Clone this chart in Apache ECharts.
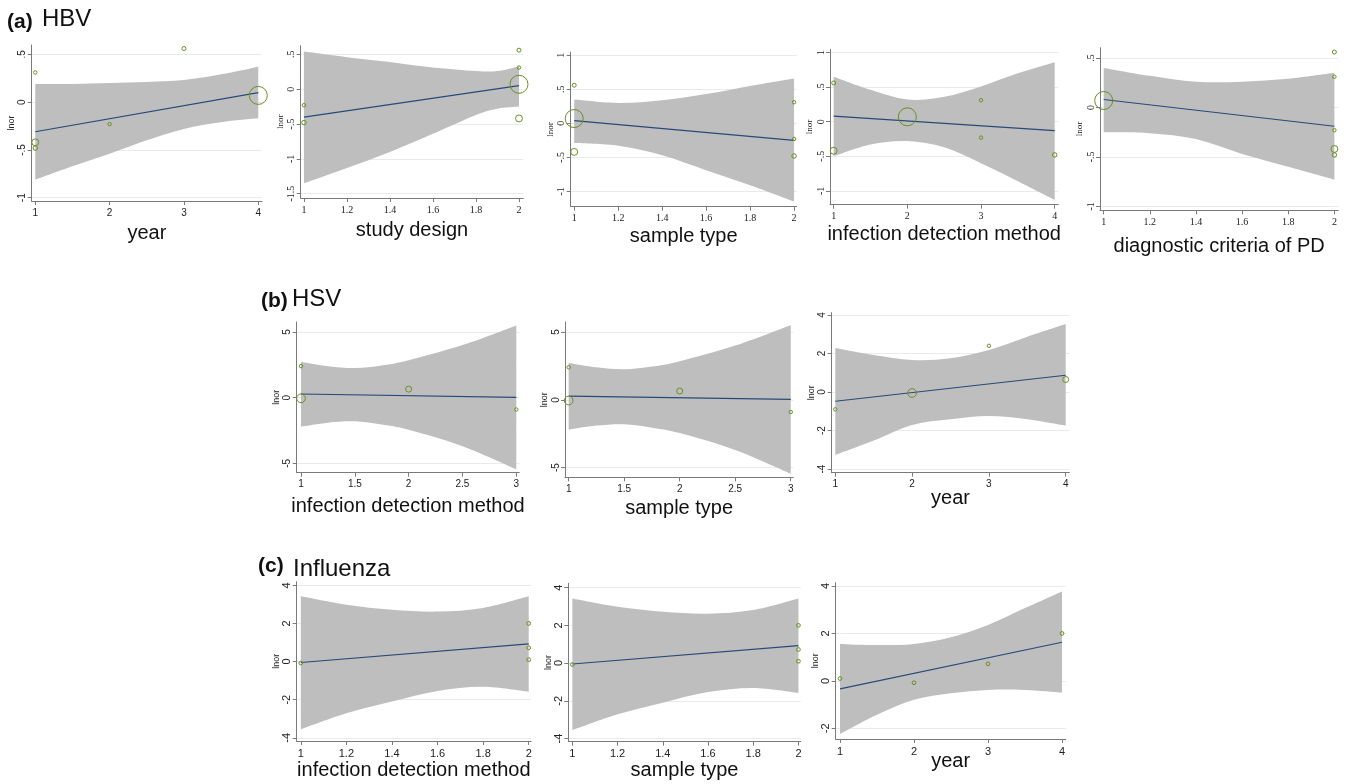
<!DOCTYPE html>
<html>
<head>
<meta charset="utf-8">
<title>Meta-regression bubble plots</title>
<script src="https://cdn.jsdelivr.net/npm/echarts@6/dist/echarts.min.js"></script>
<style>
  html, body { margin: 0; padding: 0; background: #fff; }
  #chart { width: 1346px; height: 784px; }
</style>
</head>
<body>
<div id="chart"></div>
<script>
// ---- values ----
// HBV: six studies, same order in every list
const hbvLnor     = [0.56, 0.31, 0.07, -0.23, -0.42, -0.48];
const hbvWeight   = [4, 3, 81, 3, 12, 5];
const hbvYear     = [3, 1, 4, 2, 1, 1];
const hbvDesign   = [2, 2, 2, 1, 2, 1];
const hbvSample   = [1, 2, 1, 2, 1, 2];
const hbvDetect   = [1, 3, 2, 3, 1, 4];
const hbvCriteria = [2, 2, 1, 2, 2, 2];

// HSV: four studies
const hsvLnor   = [2.4, -0.05, 0.65, -0.9];
const hsvWeight = [3, 19, 9, 3];
const hsvDetect = [1, 1, 2, 3];
const hsvSample = [1, 1, 2, 3];
const hsvYear   = [3, 2, 4, 1];

// Influenza: four studies
const fluLnor   = [-0.08, 2.0, 0.72, 0.1];
const fluWeight = [3.5, 3.5, 3.5, 3.5];
const fluDetect = [1, 2, 2, 2];
const fluSample = [1, 2, 2, 2];
const fluYear   = [2, 4, 3, 1];

// fitted line (ends) and 95% band, per panel
const hbvYearFit = [-0.31, 0.10];
const hbvYearBandX = [1, 1.5, 2, 2.5, 3, 3.5, 4];
const hbvYearLo = [-0.81, -0.67, -0.54, -0.40, -0.28, -0.21, -0.17];
const hbvYearHi = [0.19, 0.19, 0.20, 0.21, 0.23, 0.29, 0.37];

const hbvDesignFit = [-0.40, 0.05];
const hbvDesignBandX = [1, 1.2, 1.4, 1.6, 1.8, 1.9, 2];
const hbvDesignLo = [-1.35, -1.13, -0.90, -0.64, -0.37, -0.28, -0.25];
const hbvDesignHi = [0.54, 0.46, 0.39, 0.31, 0.26, 0.26, 0.33];

const hbvSampleFit = [0.04, -0.25];
const hbvSampleBandX = [1, 1.2, 1.4, 1.6, 1.8, 2];
const hbvSampleLo = [-0.29, -0.33, -0.47, -0.69, -0.91, -1.15];
const hbvSampleHi = [0.35, 0.30, 0.34, 0.43, 0.55, 0.66];

const hbvDetectFit = [0.08, -0.13];
const hbvDetectBandX = [1, 1.5, 2, 2.5, 3, 3.5, 4];
const hbvDetectLo = [-0.50, -0.33, -0.28, -0.37, -0.60, -0.86, -1.13];
const hbvDetectHi = [0.65, 0.46, 0.32, 0.36, 0.51, 0.70, 0.86];

const hbvCriteriaFit = [0.08, -0.19];
const hbvCriteriaBandX = [1, 1.2, 1.4, 1.6, 1.8, 2];
const hbvCriteriaLo = [-0.25, -0.26, -0.32, -0.47, -0.60, -0.73];
const hbvCriteriaHi = [0.40, 0.32, 0.26, 0.26, 0.29, 0.35];

const hsvDetectFit = [0.28, 0.03];
const hsvDetectBandX = [1, 1.25, 1.5, 1.75, 2, 2.5, 3];
const hsvDetectLo = [-2.2, -1.9, -1.8, -2.05, -2.45, -3.7, -5.45];
const hsvDetectHi = [2.72, 2.4, 2.25, 2.45, 2.85, 4.0, 5.5];

const hsvYearFit = [-0.48, 0.87];
const hsvYearBandX = [1, 1.5, 2, 2.5, 3, 3.5, 4];
const hsvYearLo = [-3.27, -2.52, -1.71, -1.41, -1.24, -1.41, -1.74];
const hsvYearHi = [2.29, 1.92, 1.66, 1.75, 2.18, 2.87, 3.53];

const fluDetectFit = [-0.05, 0.93];
const fluDetectBandX = [1, 1.2, 1.4, 1.6, 1.8, 2];
const fluDetectLo = [-3.56, -2.72, -2.1, -1.54, -1.32, -1.58];
const fluDetectHi = [3.42, 2.98, 2.72, 2.62, 2.81, 3.42];

const fluYearFit = [-0.34, 1.63];
const fluYearBandX = [1, 1.5, 2, 2.5, 3, 3.5, 4];
const fluYearLo = [-2.24, -1.43, -0.8, -0.52, -0.38, -0.38, -0.49];
const fluYearHi = [1.56, 1.51, 1.56, 1.84, 2.36, 3.07, 3.77];

// tick values
const ticks1to4 = [1, 2, 3, 4];
const ticks1to2 = [1, 1.2, 1.4, 1.6, 1.8, 2];
const ticks1to3 = [1, 1.5, 2, 2.5, 3];

// ---- layout ----
const SANS = "'Liberation Sans', Arial, sans-serif";
const SERIF = "'Liberation Serif', 'Times New Roman', serif";

const panels = [
  { name: 'year', x: hbvYear, y: hbvLnor, w: hbvWeight, fit: hbvYearFit, bx: hbvYearBandX, lo: hbvYearLo, hi: hbvYearHi,
    rect: [31.7, 45, 230.3, 156], xr: [0.952, 4.05], yr: [-1.034, 0.597], xt: ticks1to4, yt: [-1, -0.5, 0, 0.5], font: SANS, fs: 10, gap: 32 },
  { name: 'study design', x: hbvDesign, y: hbvLnor, w: hbvWeight, fit: hbvDesignFit, bx: hbvDesignBandX, lo: hbvDesignLo, hi: hbvDesignHi,
    rect: [300.7, 45.7, 222.6, 152.3], xr: [0.985, 2.02], yr: [-1.562, 0.624], xt: ticks1to2, yt: [-1.5, -1, -0.5, 0, 0.5], font: SERIF, fs: 10, gap: 32 },
  { name: 'sample type', x: hbvSample, y: hbvLnor, w: hbvWeight, fit: hbvSampleFit, bx: hbvSampleBandX, lo: hbvSampleLo, hi: hbvSampleHi,
    rect: [570.7, 52.3, 226, 154.4], xr: [0.984, 2.012], yr: [-1.226, 1.044], xt: ticks1to2, yt: [-1, -0.5, 0, 0.5, 1], font: SERIF, fs: 10, gap: 30 },
  { name: 'infection detection method', x: hbvDetect, y: hbvLnor, w: hbvWeight, fit: hbvDetectFit, bx: hbvDetectBandX, lo: hbvDetectLo, hi: hbvDetectHi,
    rect: [830, 49.3, 228.3, 155.4], xr: [0.95, 4.049], yr: [-1.2, 1.046], xt: ticks1to4, yt: [-1, -0.5, 0, 0.5, 1], font: SERIF, fs: 10, gap: 30 },
  { name: 'diagnostic criteria of PD', x: hbvCriteria, y: hbvLnor, w: hbvWeight, fit: hbvCriteriaFit, bx: hbvCriteriaBandX, lo: hbvCriteriaLo, hi: hbvCriteriaHi,
    rect: [1100, 47.7, 238.3, 162.6], xr: [0.984, 2.017], yr: [-1.04, 0.604], xt: ticks1to2, yt: [-1, -0.5, 0, 0.5], font: SERIF, fs: 10, gap: 36 },
  { name: 'infection detection method', x: hsvDetect, y: hsvLnor, w: hsvWeight, fit: hsvDetectFit, bx: hsvDetectBandX, lo: hsvDetectLo, hi: hsvDetectHi,
    rect: [296.7, 322, 222.6, 150.7], xr: [0.96, 3.028], yr: [-5.71, 5.76], xt: ticks1to3, yt: [-5, 0, 5], font: SANS, fs: 10, gap: 34 },
  { name: 'sample type', x: hsvSample, y: hsvLnor, w: hsvWeight, fit: hsvDetectFit, bx: hsvDetectBandX, lo: hsvDetectLo, hi: hsvDetectHi,
    rect: [565, 322, 228.3, 155.3], xr: [0.967, 3.023], yr: [-5.71, 5.74], xt: ticks1to3, yt: [-5, 0, 5], font: SANS, fs: 10, gap: 31 },
  { name: 'year', x: hsvYear, y: hsvLnor, w: hsvWeight, fit: hsvYearFit, bx: hsvYearBandX, lo: hsvYearLo, hi: hsvYearHi,
    rect: [831.7, 312.7, 237.6, 160], xr: [0.953, 4.047], yr: [-4.19, 4.12], xt: ticks1to4, yt: [-4, -2, 0, 2, 4], font: SANS, fs: 10, gap: 26 },
  { name: 'infection detection method', x: fluDetect, y: fluLnor, w: fluWeight, fit: fluDetectFit, bx: fluDetectBandX, lo: fluDetectLo, hi: fluDetectHi,
    rect: [296.7, 581.7, 234.3, 159.3], xr: [0.982, 2.01], yr: [-4.17, 4.19], xt: ticks1to2, yt: [-4, -2, 0, 2, 4], font: SANS, fs: 11, gap: 29 },
  { name: 'sample type', x: fluSample, y: fluLnor, w: fluWeight, fit: fluDetectFit, bx: fluDetectBandX, lo: fluDetectLo, hi: fluDetectHi,
    rect: [568.3, 583.3, 232.4, 158.4], xr: [0.982, 2.01], yr: [-4.17, 4.23], xt: ticks1to2, yt: [-4, -2, 0, 2, 4], font: SANS, fs: 11, gap: 29 },
  { name: 'year', x: fluYear, y: fluLnor, w: fluWeight, fit: fluYearFit, bx: fluYearBandX, lo: fluYearLo, hi: fluYearHi,
    rect: [835.7, 582.7, 230, 156.3], xr: [0.942, 4.05], yr: [-2.45, 4.14], xt: ticks1to4, yt: [-2, 0, 2, 4], font: SANS, fs: 11, gap: 22 },
];

const AXIS = '#7a7a7a';
const fmt = (v) => String(+v.toFixed(2)).replace(/^(-?)0\./, '$1.');

// catmull-rom through pixel points, as svg path commands
function spline(pts, first) {
  let d = (first ? 'M' : 'L') + pts[0][0] + ',' + pts[0][1];
  for (let i = 0; i < pts.length - 1; i++) {
    const p0 = pts[i - 1] || pts[i], p1 = pts[i], p2 = pts[i + 1], p3 = pts[i + 2] || p2;
    const c1 = [p1[0] + (p2[0] - p0[0]) / 6, p1[1] + (p2[1] - p0[1]) / 6];
    const c2 = [p2[0] - (p3[0] - p1[0]) / 6, p2[1] - (p3[1] - p1[1]) / 6];
    d += ' C' + c1[0] + ',' + c1[1] + ' ' + c2[0] + ',' + c2[1] + ' ' + p2[0] + ',' + p2[1];
  }
  return d;
}

function bandItem(params, api) {
  if (params.dataIndex !== 0) return;
  const n = params.dataInsideLength;
  const top = [], bot = [];
  for (let i = 0; i < n; i++) {
    top.push(api.coord([api.value(0, i), api.value(2, i)]));
    bot.push(api.coord([api.value(0, i), api.value(1, i)]));
  }
  const d = spline(top, true) + ' ' + spline(bot.reverse(), false) + ' Z';
  return { type: 'path', shape: { pathData: d }, style: { fill: '#bebebe' } };
}

const grid = [], xAxis = [], yAxis = [], series = [];
panels.forEach((p, i) => {
  grid.push({ left: p.rect[0], top: p.rect[1], width: p.rect[2], height: p.rect[3], containLabel: false, outerBoundsMode: 'none' });
  xAxis.push({
    type: 'value', gridIndex: i, min: p.xr[0], max: p.xr[1],
    name: p.name, nameLocation: 'middle', nameGap: p.gap, nameMoveOverlap: false,
    nameTextStyle: { fontFamily: SANS, fontSize: 20, color: '#111', verticalAlign: 'middle' },
    axisLine: { show: true, onZero: false, lineStyle: { color: AXIS } },
    axisTick: { show: true, length: 4, customValues: p.xt, lineStyle: { color: AXIS } },
    axisLabel: { customValues: p.xt, formatter: fmt, fontFamily: p.font, fontSize: p.fs, color: '#222', margin: 7 },
    splitLine: { show: false },
  });
  yAxis.push({
    type: 'value', gridIndex: i, min: p.yr[0], max: p.yr[1],
    name: 'lnor', nameLocation: 'middle', nameGap: 20, nameRotate: 90, nameMoveOverlap: false,
    nameTextStyle: { fontFamily: p.font, fontSize: 9, color: '#222', verticalAlign: 'middle' },
    axisLine: { show: true, onZero: false, lineStyle: { color: AXIS } },
    axisTick: { show: true, length: 4, customValues: p.yt, lineStyle: { color: AXIS } },
    axisLabel: { customValues: p.yt, rotate: 90, formatter: fmt, fontFamily: p.font, fontSize: p.fs, color: '#222', margin: 4 },
    splitLine: { show: true, customValues: p.yt, lineStyle: { color: '#e6ebeb', width: 1 } },
  });
  series.push({
    type: 'custom', xAxisIndex: i, yAxisIndex: i, z: 1, silent: true,
    encode: { x: 0, y: [1, 2] },
    data: p.bx.map((x, k) => [x, p.lo[k], p.hi[k]]),
    renderItem: bandItem,
  });
  series.push({
    type: 'line', xAxisIndex: i, yAxisIndex: i, z: 2, silent: true,
    showSymbol: false, symbol: 'none',
    data: [[p.xt[0], p.fit[0]], [p.xt[p.xt.length - 1], p.fit[1]]],
    lineStyle: { color: '#284a78', width: 1.2 },
  });
  series.push({
    type: 'scatter', xAxisIndex: i, yAxisIndex: i, z: 3, silent: true,
    data: p.x.map((xv, k) => [xv, p.y[k], p.w[k]]),
    symbol: 'circle',
    symbolSize: (d) => 2 * Math.sqrt(d[2]),
    itemStyle: { color: 'rgba(0,0,0,0)', borderColor: '#6b8e23', borderWidth: 1, opacity: 1 },
  });
});

const titleText = (x, y, text, bold, size) => ({
  type: 'text', x: x, y: y, silent: true,
  style: { text: text, font: (bold ? 'bold ' : '') + size + 'px ' + SANS, fill: '#111', align: 'left', verticalAlign: 'middle' },
});

const chart = echarts.init(document.getElementById('chart'), null, { renderer: 'canvas' });
chart.setOption({
  animation: false,
  backgroundColor: '#fff',
  grid, xAxis, yAxis, series,
  graphic: [
    titleText(7, 22, '(a)', true, 21),
    titleText(42, 19.5, 'HBV', false, 24),
    titleText(261, 301, '(b)', true, 21),
    titleText(292, 299, 'HSV', false, 24),
    titleText(258, 566, '(c)', true, 21),
    titleText(293, 569.5, 'Influenza', false, 24),
  ],
});
</script>
</body>
</html>
